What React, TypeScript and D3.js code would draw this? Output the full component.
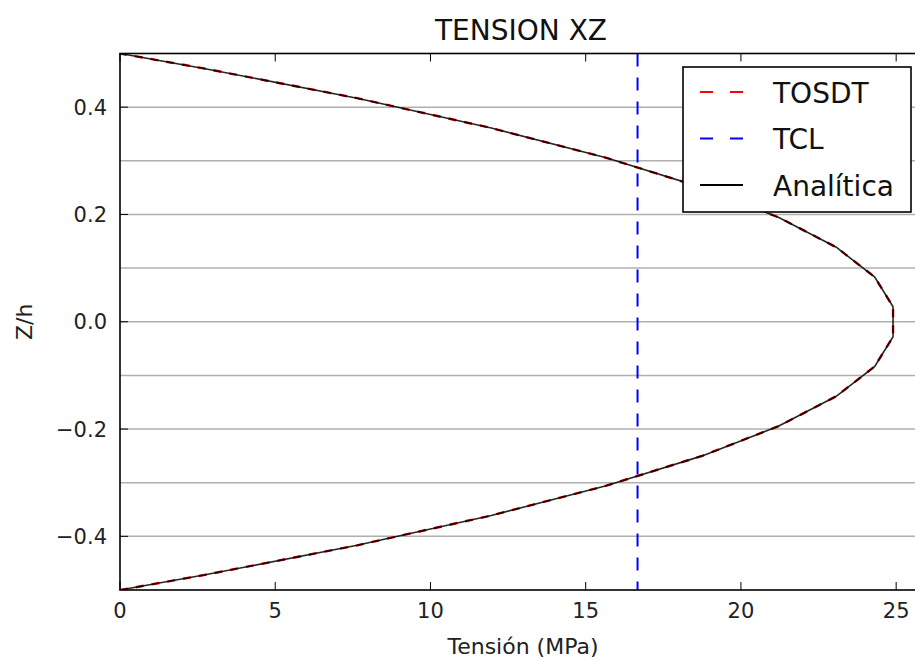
import React from "react";
import * as d3 from "d3";

const zValues = [-0.5, -0.4722, -0.4167, -0.3611, -0.3056, -0.25, -0.1944, -0.1389, -0.0833, -0.0278,
  0.0278, 0.0833, 0.1389, 0.1944, 0.25, 0.3056, 0.3611, 0.4167, 0.4722, 0.5];
const analitica = [0, 2.70, 7.64, 11.96, 15.66, 18.75, 21.22, 23.07, 24.31, 24.9,
  24.9, 24.31, 23.07, 21.22, 18.75, 15.66, 11.96, 7.64, 2.70, 0];
const tosdt = [0, 2.70, 7.64, 11.96, 15.66, 18.75, 21.22, 23.07, 24.31, 24.9,
  24.9, 24.31, 23.07, 21.22, 18.75, 15.66, 11.96, 7.64, 2.70, 0];
const tclValue = 16.67;
const xTicks = [0, 5, 10, 15, 20, 25];
const yTicks = [-0.4, -0.2, 0.0, 0.2, 0.4];
const yGrid = [-0.4, -0.3, -0.2, -0.1, 0.0, 0.1, 0.2, 0.3, 0.4];
const legendItems = [
  { label: "TOSDT", color: "#ff0000", dashed: true },
  { label: "TCL", color: "#0000ff", dashed: true },
  { label: "Analítica", color: "#000000", dashed: false },
];

const L = 120, R = 921, T = 53.5, B = 590;
const FONT = "DejaVu Sans, sans-serif";

export default function App() {
  const x = d3.scaleLinear().domain([0, 25.8]).range([L, R]);
  const y = d3.scaleLinear().domain([-0.5, 0.5]).range([B, T]);
  const line = d3.line<number>().x((d) => x(d[0])).y((d) => y(d[1]));
  const anaPts = analitica.map((v, i) => [v, zValues[i]]);
  const tosPts = tosdt.map((v, i) => [v, zValues[i]]);
  const fmtY = (v: number) => (v < 0 ? "\u2212" : "") + Math.abs(v).toFixed(1);

  return (
    <svg width={915} height={660} style={{ position: "absolute", left: 0, top: 0, background: "#fff" }}>
      <rect x={0} y={0} width={915} height={660} fill="#fff" />
      <defs>
        <clipPath id="plot">
          <rect x={L} y={T} width={R - L} height={B - T} />
        </clipPath>
      </defs>
      {yGrid.map((g) => (
        <line key={g} x1={L} x2={R} y1={y(g)} y2={y(g)} stroke="#b0b0b0" strokeWidth={1.5} />
      ))}
      <g clipPath="url(#plot)">
        <line x1={x(tclValue)} x2={x(tclValue)} y1={T} y2={B} stroke="#0000ff" strokeWidth={2} strokeDasharray="13,11" />
        <path d={line(tosPts as any) || ""} fill="none" stroke="#d00000" strokeWidth={2.4} strokeDasharray="8,8" />
        <path d={line(anaPts as any) || ""} fill="none" stroke="#000" strokeWidth={1.6} strokeOpacity={0.85} />
      </g>
      {/* ticks */}
      {xTicks.map((t) => (
        <g key={"x" + t}>
          <line x1={x(t)} x2={x(t)} y1={B} y2={B - 8} stroke="#000" strokeWidth={1} />
          <line x1={x(t)} x2={x(t)} y1={T} y2={T + 8} stroke="#000" strokeWidth={1} />
          <text x={x(t)} y={618} textAnchor="middle" fontFamily={FONT} fontSize={21} fill="#222">{t}</text>
        </g>
      ))}
      {yTicks.map((t) => (
        <g key={"y" + t}>
          <line x1={L} x2={L + 8} y1={y(t)} y2={y(t)} stroke="#000" strokeWidth={1} />
          <text x={107} y={y(t) + 7.5} textAnchor="end" fontFamily={FONT} fontSize={21} fill="#222">{fmtY(t)}</text>
        </g>
      ))}
      <rect x={L} y={T} width={R - L} height={B - T} fill="none" stroke="#000" strokeWidth={1.6} />
      <text x={521} y={40} textAnchor="middle" fontFamily={FONT} fontSize={28} fill="#111">TENSION XZ</text>
      <text x={523} y={654} textAnchor="middle" fontFamily={FONT} fontSize={22} fill="#222">Tensión (MPa)</text>
      <text transform={`translate(32, ${y(0)}) rotate(-90)`} textAnchor="middle" fontFamily={FONT} fontSize={22} fill="#222">Z/h</text>
      {/* legend */}
      <rect x={683} y={67} width={228} height={145} fill="#fff" stroke="#000" strokeWidth={1.6} />
      {legendItems.map((it, i) => {
        const cy = 92 + i * 46.5;
        return (
          <g key={it.label}>
            <line x1={700} x2={743} y1={cy} y2={cy} stroke={it.color} strokeWidth={2}
              strokeDasharray={it.dashed ? "13,17" : undefined} />
            <text x={773} y={cy + 10.5} fontFamily={FONT} fontSize={28} fill="#111">{it.label}</text>
          </g>
        );
      })}
    </svg>
  );
}
